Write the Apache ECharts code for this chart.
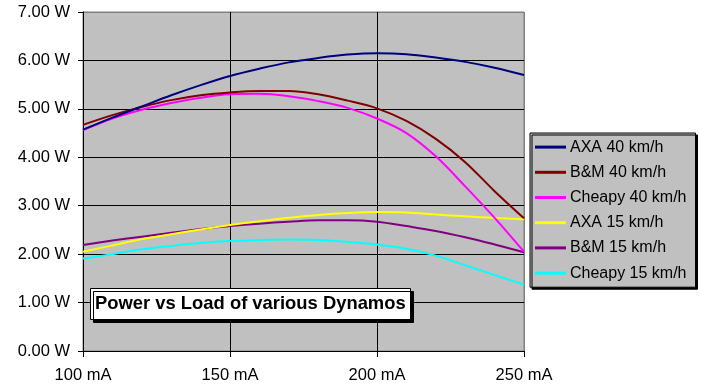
<!DOCTYPE html>
<html>
<head>
<meta charset="utf-8">
<script src="https://cdn.jsdelivr.net/npm/echarts@6/dist/echarts.min.js"></script>
<style>
html,body{margin:0;padding:0;background:#fff;}
#c{width:701px;height:386px;}
</style>
</head>
<body>
<div id="c"></div>
<script>
var loadMA = [100,110,120,130,140,150,160,170,180,190,200,210,220,230,240,250];
var seriesNames = ['AXA 40 km/h','B&M 40 km/h','Cheapy 40 km/h','AXA 15 km/h','B&M 15 km/h','Cheapy 15 km/h'];
var axa40    = [4.57,4.82,5.05,5.28,5.49,5.68,5.83,5.96,6.05,6.12,6.15,6.13,6.06,5.97,5.85,5.70];
var bm40     = [4.67,4.87,5.04,5.18,5.28,5.34,5.37,5.37,5.30,5.17,5.01,4.75,4.38,3.90,3.30,2.74];
var cheapy40 = [4.56,4.80,4.98,5.12,5.23,5.30,5.31,5.26,5.16,5.02,4.80,4.50,4.02,3.40,2.75,2.05];
var axa15    = [2.05,2.18,2.31,2.41,2.51,2.60,2.68,2.75,2.81,2.85,2.87,2.86,2.82,2.78,2.75,2.72];
var bm15     = [2.19,2.28,2.36,2.44,2.52,2.58,2.63,2.67,2.70,2.70,2.67,2.58,2.48,2.35,2.20,2.04];
var cheapy15 = [1.91,2.00,2.10,2.17,2.23,2.27,2.29,2.30,2.29,2.25,2.20,2.11,1.97,1.77,1.57,1.37];
var colors = ['#000080','#800000','#FF00FF','#FFFF00','#800080','#00FFFF'];
var titleText = 'Power vs Load of various Dynamos';

function pairs(vals){ return loadMA.map(function(x,i){ return [x, vals[i]]; }); }
var allVals = [axa40,bm40,cheapy40,axa15,bm15,cheapy15];

var chart = echarts.init(document.getElementById('c'), null, {renderer:'canvas'});
var font = '"Liberation Sans", Arial, sans-serif';
chart.setOption({
  animation:false,
  backgroundColor:'#fff',
  title:{
    text:titleText,
    left:90, top:288,
    padding:[7,5,7,5],
    backgroundColor:'#fff',
    borderColor:'#000', borderWidth:1,
    shadowColor:'#000', shadowOffsetX:3, shadowOffsetY:3, shadowBlur:0,
    textStyle:{fontFamily:font, fontSize:18.4, fontWeight:'bold', color:'#000', lineHeight:18}
  },
  legend:{
    orient:'vertical',
    left:530, top:133,
    padding:[6,9,6,5],
    itemGap:9,
    itemWidth:31, itemHeight:3,
    icon:'rect',
    backgroundColor:'#C0C0C0',
    borderColor:'#000', borderWidth:1,
    shadowColor:'#000', shadowOffsetX:2, shadowOffsetY:2, shadowBlur:0,
    textStyle:{fontFamily:font, fontSize:16, color:'#000', lineHeight:16.2, padding:[0,0,0,-1]},
    data:seriesNames
  },
  grid:{
    left:83, right:177, top:12, bottom:35,
    show:true, backgroundColor:'#C0C0C0', borderColor:'#808080', borderWidth:1
  },
  xAxis:{
    type:'value', min:100, max:250, interval:50,
    axisLine:{show:true, lineStyle:{color:'#000', width:1}},
    axisTick:{show:true, length:6, lineStyle:{color:'#000'}},
    axisLabel:{margin:16, fontFamily:font, fontSize:16.5, color:'#000', formatter:function(v){return v+' mA';}},
    splitLine:{show:true, lineStyle:{color:['#000','#000','#000','#808080'], width:1}}
  },
  yAxis:{
    type:'value', min:0, max:7, interval:1,
    axisLine:{show:true, lineStyle:{color:'#000', width:1}},
    axisTick:{show:true, length:5, lineStyle:{color:'#000'}},
    axisLabel:{margin:13, fontFamily:font, fontSize:16.5, color:'#000', formatter:function(v){return v.toFixed(2)+' W';}},
    splitLine:{show:true, lineStyle:{color:['#000','#000','#000','#000','#000','#000','#000','#808080'], width:1}}
  },
  series: seriesNames.map(function(n,i){
    return {
      name:n, type:'line', data:pairs(allVals[i]),
      smooth:0.35, symbol:'none',
      lineStyle:{color:colors[i], width:2},
      itemStyle:{color:colors[i]},
      z:10-i
    };
  })
});
</script>
</body>
</html>
